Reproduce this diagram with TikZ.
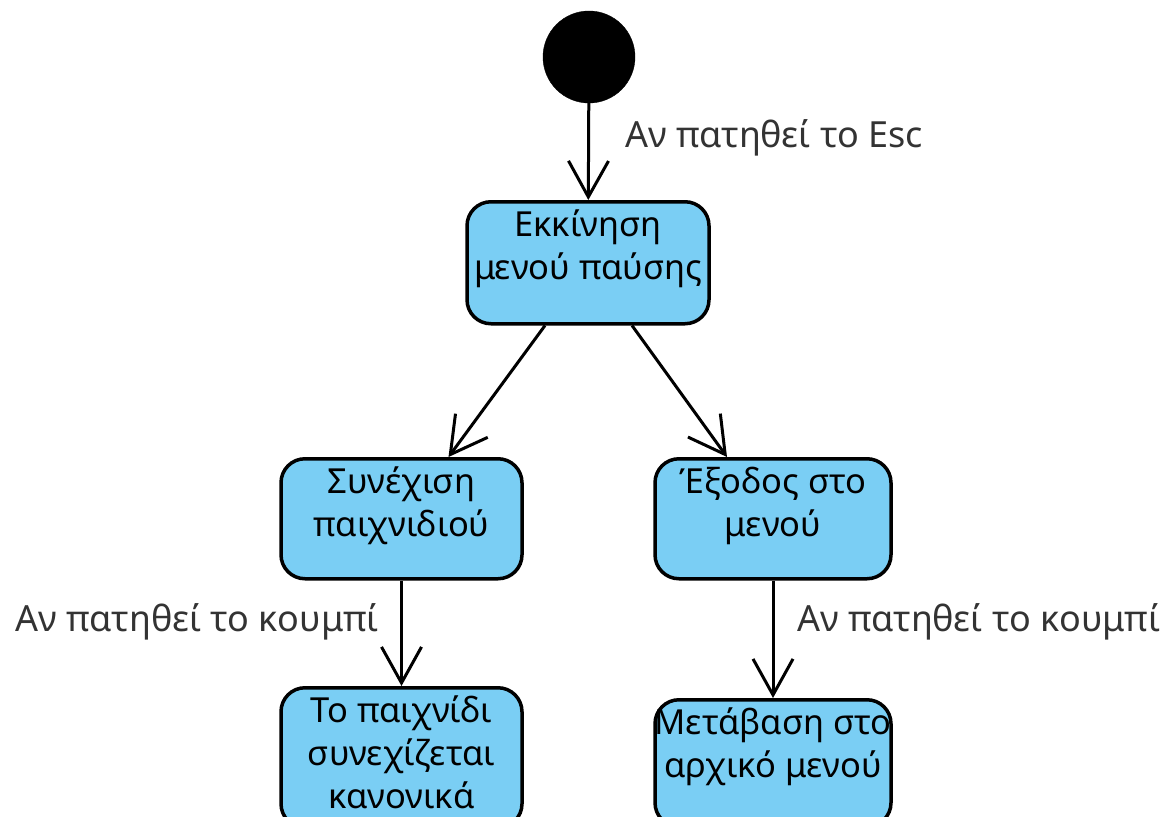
\documentclass[tikz,border=0pt]{standalone}
\usepackage{fontspec}
\setmainfont{Noto Sans}
\usepackage{tikz}
\usetikzlibrary{arrows.meta,shapes}
\definecolor{stateblue}{RGB}{122,206,244}
\newcommand{\stxt}[3]{\parbox[c][#2][t]{#1}{\makebox[#1]{\begin{tabular}[t]{@{}c@{}}\rule{0pt}{35pt}#3\end{tabular}}}}

\begin{document}
\begin{tikzpicture}[x=1pt,y=-1pt,
    state/.style={draw=black, line width=3.5pt, fill=stateblue, rounded corners=24pt,
        inner sep=0pt, anchor=north, font=\fontsize{34.5}{43}\selectfont},
    trans/.style={line width=3pt, -{Straight Barb[length=36pt,width=40pt]}},
    cond/.style={text=black!80, inner sep=0pt, font=\fontsize{36}{46}\selectfont}]
        \useasboundingbox (0,0) rectangle (1174,816);
        %\draw[help lines] (0,0) grid[step=100] (1174,816);

        \node[circle, draw=black, fill=black, minimum size=92pt, inner sep=0pt] (start) at (589,57) {};

        \node[state] (pause)    at (588,200)   {\stxt{242pt}{122pt}{Εκκίνηση\\μενού παύσης}};
        \node[state] (cont)     at (401.5,457) {\stxt{241pt}{120pt}{Συνέχιση\\παιχνιδιού}};
        \node[state] (exit)     at (773,457)   {\stxt{236pt}{120pt}{Έξοδος στο\\μενού}};
        \node[state] (resume)   at (401.5,686) {\stxt{241pt}{140pt}{Το παιχνίδι\\συνεχίζεται\\κανονικά}};
        \node[state] (mainmenu) at (773,698)   {\stxt{236pt}{127pt}{Μετάβαση στο\\αρχικό μενού}};

        \node[cond, anchor=base west] (esc)      at (625,147) {Αν πατηθεί το Esc};
        \node[cond, anchor=base east] (btnleft)  at (379,631) {Αν πατηθεί το κουμπί};
        \node[cond, anchor=base west] (btnright) at (797,631) {Αν πατηθεί το κουμπί};

        \draw[trans] (start) -- (pause);
        \draw[trans] ([xshift=-43pt]pause.south) -- ([xshift=47pt]cont.north);
        \draw[trans] ([xshift=44pt]pause.south) -- ([xshift=-46pt]exit.north);
        \draw[trans] (cont.south) -- (resume.north);
        \draw[trans] (exit.south) -- (mainmenu.north);
\end{tikzpicture}
\end{document}
